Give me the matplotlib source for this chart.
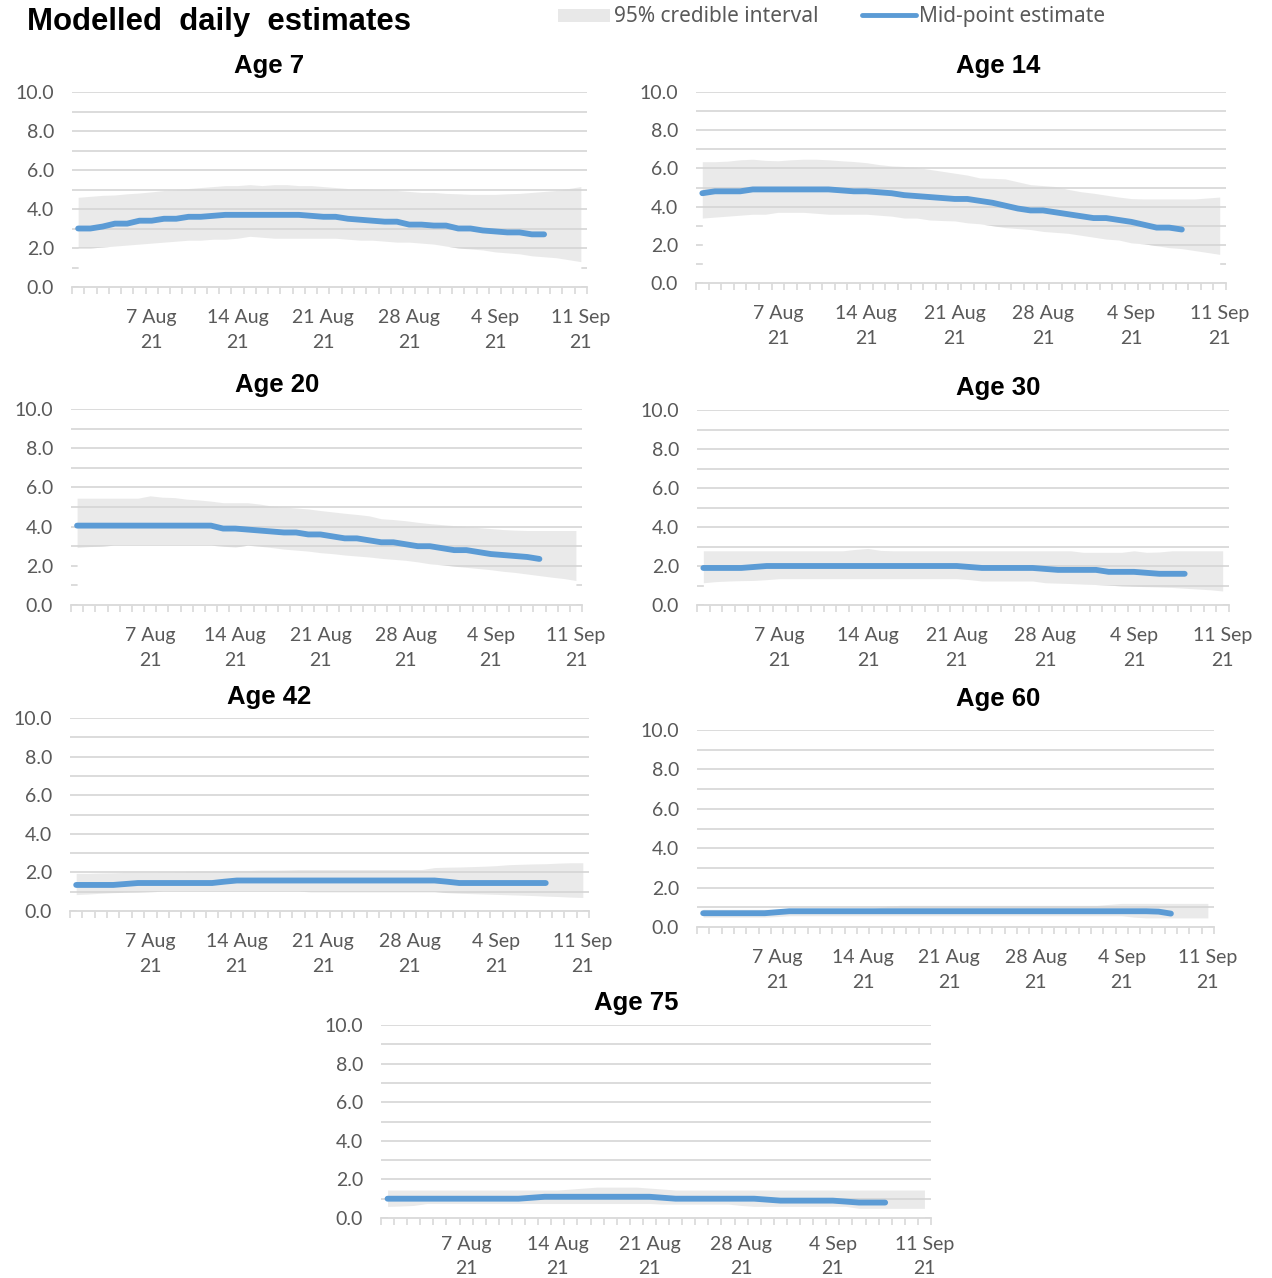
import matplotlib
matplotlib.use("Agg")
import matplotlib.pyplot as plt
import matplotlib.dates as mdates
import numpy as np
import pandas as pd
from matplotlib.lines import Line2D
from matplotlib.patches import Rectangle

plt.rcParams["font.family"] = ["Lato", "DejaVu Sans"]

# categories: one per day, 1 Aug 2021 .. 11 Sep 2021
days = pd.date_range("2021-08-01", "2021-09-11")
label_days = pd.to_datetime(["2021-08-07", "2021-08-14", "2021-08-21",
                             "2021-08-28", "2021-09-04", "2021-09-11"])

# mid-point estimates (1 Aug .. 8 Sep) and 95% credible interval (1 Aug .. 11 Sep)
age7_mid = [3.0, 3.0, 3.1, 3.25, 3.25, 3.4, 3.4, 3.5, 3.5, 3.6, 3.6, 3.65, 3.7,
            3.7, 3.7, 3.7, 3.7, 3.7, 3.7, 3.65, 3.6, 3.6, 3.5, 3.45, 3.4, 3.35,
            3.35, 3.2, 3.2, 3.15, 3.15, 3.0, 3.0, 2.9, 2.85, 2.8, 2.8, 2.7, 2.7]
age7_hi = [4.6, 4.65, 4.7, 4.72, 4.78, 4.82, 4.88, 4.95, 5.0, 5.05, 5.1, 5.15,
           5.2, 5.2, 5.25, 5.2, 5.25, 5.25, 5.2, 5.2, 5.15, 5.1, 5.05, 5.05,
           5.0, 5.0, 4.95, 4.9, 4.85, 4.85, 4.8, 4.78, 4.75, 4.75, 4.75, 4.78,
           4.8, 4.85, 4.9, 4.95, 5.05, 5.15]
age7_lo = [2.0, 2.0, 2.05, 2.1, 2.15, 2.2, 2.25, 2.3, 2.35, 2.4, 2.4, 2.45,
           2.45, 2.5, 2.6, 2.55, 2.5, 2.5, 2.5, 2.5, 2.5, 2.5, 2.45, 2.4, 2.4,
           2.35, 2.3, 2.3, 2.25, 2.2, 2.1, 2.0, 1.95, 1.9, 1.8, 1.75, 1.7, 1.6,
           1.55, 1.5, 1.4, 1.3]

age14_mid = [4.7, 4.8, 4.8, 4.8, 4.9, 4.9, 4.9, 4.9, 4.9, 4.9, 4.9, 4.85, 4.8,
             4.8, 4.75, 4.7, 4.6, 4.55, 4.5, 4.45, 4.4, 4.4, 4.3, 4.2, 4.05,
             3.9, 3.8, 3.8, 3.7, 3.6, 3.5, 3.4, 3.4, 3.3, 3.2, 3.05, 2.9, 2.9,
             2.8]
age14_hi = [6.35, 6.35, 6.38, 6.45, 6.48, 6.42, 6.4, 6.45, 6.48, 6.48, 6.45,
            6.4, 6.36, 6.3, 6.2, 6.13, 6.1, 6.05, 5.95, 5.85, 5.75, 5.65, 5.5,
            5.48, 5.45, 5.3, 5.15, 5.1, 5.05, 4.9, 4.78, 4.7, 4.6, 4.5, 4.42,
            4.4, 4.4, 4.4, 4.4, 4.4, 4.45, 4.5]
age14_lo = [3.4, 3.45, 3.5, 3.55, 3.6, 3.6, 3.7, 3.7, 3.7, 3.65, 3.6, 3.6, 3.6,
            3.6, 3.55, 3.5, 3.4, 3.4, 3.3, 3.27, 3.25, 3.15, 3.1, 3.0, 2.9,
            2.85, 2.8, 2.7, 2.65, 2.6, 2.5, 2.4, 2.3, 2.25, 2.1, 2.05, 1.95,
            1.85, 1.8, 1.7, 1.6, 1.5]

age20_mid = [4.05, 4.05, 4.05, 4.05, 4.05, 4.05, 4.05, 4.05, 4.05, 4.05, 4.05,
             4.05, 3.9, 3.9, 3.85, 3.8, 3.75, 3.7, 3.7, 3.6, 3.6, 3.5, 3.4,
             3.4, 3.3, 3.2, 3.2, 3.1, 3.0, 3.0, 2.9, 2.8, 2.8, 2.7, 2.6, 2.55,
             2.5, 2.45, 2.35]
age20_hi = [5.45, 5.45, 5.45, 5.45, 5.45, 5.45, 5.57, 5.5, 5.48, 5.4, 5.36, 5.3,
            5.22, 5.22, 5.22, 5.15, 5.05, 5.0, 4.95, 4.9, 4.82, 4.75, 4.68,
            4.62, 4.55, 4.4, 4.36, 4.3, 4.22, 4.15, 4.1, 4.05, 4.0, 3.95, 3.9,
            3.85, 3.82, 3.8, 3.8, 3.8, 3.8, 3.8]
age20_lo = [2.93, 2.98, 3.0, 3.05, 3.05, 3.05, 3.05, 3.05, 3.05, 3.05, 3.05,
            3.05, 3.0, 2.95, 3.05, 3.0, 2.93, 2.85, 2.8, 2.75, 2.67, 2.62, 2.55,
            2.5, 2.45, 2.38, 2.33, 2.28, 2.2, 2.1, 2.05, 1.98, 1.92, 1.86, 1.8,
            1.72, 1.66, 1.58, 1.5, 1.42, 1.35, 1.25]

age30_mid = [1.9, 1.9, 1.9, 1.9, 1.95, 2.0, 2.0, 2.0, 2.0, 2.0, 2.0, 2.0, 2.0,
             2.0, 2.0, 2.0, 2.0, 2.0, 2.0, 2.0, 2.0, 1.95, 1.9, 1.9, 1.9, 1.9,
             1.9, 1.85, 1.8, 1.8, 1.8, 1.8, 1.7, 1.7, 1.7, 1.65, 1.6, 1.6, 1.6]
age30_hi = [2.78, 2.78, 2.78, 2.78, 2.78, 2.78, 2.78, 2.78, 2.78, 2.78, 2.78,
            2.78, 2.85, 2.9, 2.8, 2.78, 2.78, 2.78, 2.78, 2.78, 2.78, 2.78,
            2.78, 2.78, 2.78, 2.78, 2.78, 2.78, 2.78, 2.78, 2.7, 2.7, 2.7, 2.7,
            2.78, 2.7, 2.72, 2.78, 2.78, 2.78, 2.78, 2.78]
age30_lo = [1.14, 1.2, 1.23, 1.25, 1.26, 1.3, 1.35, 1.35, 1.35, 1.35, 1.35,
            1.35, 1.35, 1.35, 1.35, 1.35, 1.35, 1.35, 1.35, 1.35, 1.35, 1.3,
            1.23, 1.23, 1.23, 1.23, 1.23, 1.14, 1.12, 1.1, 1.07, 1.05, 1.02,
            0.98, 0.96, 0.94, 0.92, 0.9, 0.86, 0.82, 0.78, 0.72]

age42_mid = [1.35, 1.35, 1.35, 1.35, 1.4, 1.45, 1.45, 1.45, 1.45, 1.45, 1.45,
             1.45, 1.52, 1.58, 1.58, 1.58, 1.58, 1.58, 1.58, 1.58, 1.58, 1.58,
             1.58, 1.58, 1.58, 1.58, 1.58, 1.58, 1.58, 1.58, 1.52, 1.45, 1.45,
             1.45, 1.45, 1.45, 1.45, 1.45, 1.45]
age42_hi = [1.95, 1.95, 1.97, 1.98, 2.0, 2.0, 2.0, 2.02, 2.03, 2.05, 2.07, 2.08,
            2.1, 2.1, 2.1, 2.12, 2.12, 2.13, 2.15, 2.15, 2.15, 2.15, 2.15, 2.15,
            2.15, 2.15, 2.15, 2.15, 2.15, 2.25, 2.27, 2.28, 2.3, 2.32, 2.35,
            2.4, 2.42, 2.44, 2.45, 2.48, 2.5, 2.5]
age42_lo = [0.85, 0.88, 0.92, 0.95, 0.97, 0.98, 1.0, 1.02, 1.02, 1.02, 1.02,
            1.02, 1.02, 1.02, 1.02, 1.02, 1.02, 1.02, 1.02, 1.0, 1.0, 1.0, 1.0,
            1.0, 1.0, 1.0, 1.0, 1.0, 1.0, 1.0, 0.95, 0.92, 0.9, 0.88, 0.86,
            0.84, 0.82, 0.8, 0.77, 0.75, 0.72, 0.7]

age60_mid = [0.7, 0.7, 0.7, 0.7, 0.7, 0.7, 0.75, 0.8, 0.8, 0.8, 0.8, 0.8, 0.8,
             0.8, 0.8, 0.8, 0.8, 0.8, 0.8, 0.8, 0.8, 0.8, 0.8, 0.8, 0.8, 0.8,
             0.8, 0.8, 0.8, 0.8, 0.8, 0.8, 0.8, 0.8, 0.8, 0.8, 0.8, 0.78, 0.68]
age60_hi = [0.9, 0.9, 0.9, 0.9, 0.9, 0.9, 0.9, 0.9, 0.9, 0.9, 0.9, 0.9, 0.9,
            0.9, 0.95, 1.05, 1.1, 1.1, 1.1, 1.1, 1.1, 1.1, 1.1, 1.1, 1.1, 1.1,
            1.1, 1.1, 1.1, 1.1, 1.1, 1.1, 1.1, 1.15, 1.2, 1.2, 1.2, 1.2, 1.2,
            1.2, 1.2, 1.2]
age60_lo = [0.5, 0.5, 0.5, 0.5, 0.5, 0.5, 0.53, 0.57, 0.57, 0.57, 0.57, 0.57,
            0.57, 0.57, 0.57, 0.57, 0.57, 0.57, 0.57, 0.57, 0.57, 0.57, 0.57,
            0.57, 0.57, 0.57, 0.57, 0.57, 0.57, 0.57, 0.57, 0.57, 0.57, 0.57,
            0.57, 0.5, 0.46, 0.46, 0.46, 0.46, 0.46, 0.46]

age75_mid = [1.0, 1.0, 1.0, 1.0, 1.0, 1.0, 1.0, 1.0, 1.0, 1.0, 1.0, 1.05, 1.1,
             1.1, 1.1, 1.1, 1.1, 1.1, 1.1, 1.1, 1.1, 1.05, 1.0, 1.0, 1.0, 1.0,
             1.0, 1.0, 1.0, 0.95, 0.9, 0.9, 0.9, 0.9, 0.9, 0.85, 0.8, 0.8, 0.8]
age75_hi = [1.45, 1.45, 1.45, 1.45, 1.45, 1.45, 1.45, 1.45, 1.45, 1.45, 1.45,
            1.45, 1.45, 1.45, 1.5, 1.55, 1.6, 1.6, 1.6, 1.6, 1.55, 1.5, 1.45,
            1.45, 1.45, 1.45, 1.45, 1.45, 1.45, 1.45, 1.45, 1.45, 1.45, 1.45,
            1.45, 1.45, 1.45, 1.45, 1.45, 1.45, 1.45, 1.45]
age75_lo = [0.6, 0.62, 0.65, 0.75, 0.75, 0.75, 0.75, 0.75, 0.75, 0.75, 0.75,
            0.75, 0.75, 0.75, 0.75, 0.75, 0.75, 0.75, 0.75, 0.75, 0.75, 0.72,
            0.72, 0.72, 0.72, 0.72, 0.72, 0.65, 0.6, 0.6, 0.6, 0.6, 0.6, 0.6,
            0.6, 0.6, 0.5, 0.5, 0.5, 0.5, 0.5, 0.5]

W, H = 1272, 1278
fig = plt.figure(figsize=(W / 100, H / 100), dpi=100)

GRID = "#d9d9d9"
TXT = "#595959"
BLUE = "#5b9bd5"

# (title, mid, lo, hi, plot box in px (left, top, right, bottom), title centre px, x label pad)
panels = [
    ("Age 7", age7_mid, age7_lo, age7_hi, (72, 92, 587, 287), (269, 66), 15.5),
    ("Age 14", age14_mid, age14_lo, age14_hi, (696, 92, 1226, 283), (998, 66), 15.5),
    ("Age 20", age20_mid, age20_lo, age20_hi, (71, 409, 582, 605), (277, 385), 15.5),
    ("Age 30", age30_mid, age30_lo, age30_hi, (697, 410, 1229, 605), (998, 388), 15.5),
    ("Age 42", age42_mid, age42_lo, age42_hi, (70, 718, 589, 911), (269, 697), 15.5),
    ("Age 60", age60_mid, age60_lo, age60_hi, (697, 730, 1214, 927), (998, 699), 15.5),
    ("Age 75", age75_mid, age75_lo, age75_hi, (381, 1025, 931, 1218), (636, 1003), 13.0),
]

x = mdates.date2num(days)

for title, mid, lo, hi, (l, t, r, b), (tx, ty), xpad in panels:
    ax = fig.add_axes([l / W, 1 - b / H, (r - l) / W, (b - t) / H])
    ax.set_axisbelow(True)
    xm = x[:len(mid)]
    # white area under the lower bound hides the gridlines, as in the original
    ax.fill_between(x, 0, lo, color="white", lw=0, zorder=1)
    ax.fill_between(x, lo, hi, color="#d6d6d6", alpha=0.5, lw=0, zorder=1.1)
    ax.plot(xm, mid, color=BLUE, lw=4.2, solid_capstyle="round",
            solid_joinstyle="round", zorder=3)

    ax.set_xlim(x[0] - 0.5, x[-1] + 0.5)
    ax.set_ylim(0, 10)
    ax.set_yticks(np.arange(0, 11, 2))
    ax.set_yticks(np.arange(1, 10, 2), minor=True)
    ax.set_yticklabels([f"{v:.1f}" for v in np.arange(0, 11, 2)])
    ax.grid(axis="y", which="both", color=GRID, lw=1.3)
    ax.tick_params(axis="y", which="both", length=0, pad=13, labelsize=14,
                   labelcolor=TXT)

    ax.set_xticks(mdates.date2num(label_days))
    ax.set_xticklabels([f"{d.day} {d:%b}\n{d:%y}" for d in label_days],
                       linespacing=1.6 if xpad > 14 else 1.5)
    ax.set_xticks(np.arange(x[0] - 0.5, x[-1] + 1.0, 1.0), minor=True)
    ax.tick_params(axis="x", which="major", length=0, pad=xpad, labelsize=14,
                   labelcolor=TXT)
    ax.tick_params(axis="x", which="minor", length=5, width=1.2, color=GRID,
                   direction="out")

    for side in ["top", "right", "left"]:
        ax.spines[side].set_visible(False)
    ax.spines["bottom"].set_color(GRID)
    ax.spines["bottom"].set_linewidth(1.3)
    ax.spines["bottom"].set_zorder(2.5)

    fig.text(tx / W, 1 - ty / H, title, ha="center", va="center",
             fontsize=18.5, fontweight="bold", family="Liberation Sans")

fig.text(27 / W, 1 - 22 / H, "Modelled  daily  estimates", ha="left",
         va="center", fontsize=22.4, fontweight="bold", family="Liberation Sans")

# legend
fig.add_artist(Rectangle((558 / W, 1 - 22 / H), 52 / W, 13 / H,
                         transform=fig.transFigure, color="#e8e8e8", lw=0))
fig.text(614 / W, 1 - 16.5 / H, "95% credible interval", ha="left", va="center",
         fontsize=15, color=TXT, family="Noto Sans")
fig.add_artist(Line2D([862 / W, 916 / W], [1 - 15 / H, 1 - 15 / H],
                      transform=fig.transFigure, color=BLUE, lw=3.5,
                      solid_capstyle="round"))
fig.text(919 / W, 1 - 16.5 / H, "Mid-point estimate", ha="left", va="center",
         fontsize=15, color=TXT, family="Noto Sans")

fig.savefig("out.png", dpi=100)
